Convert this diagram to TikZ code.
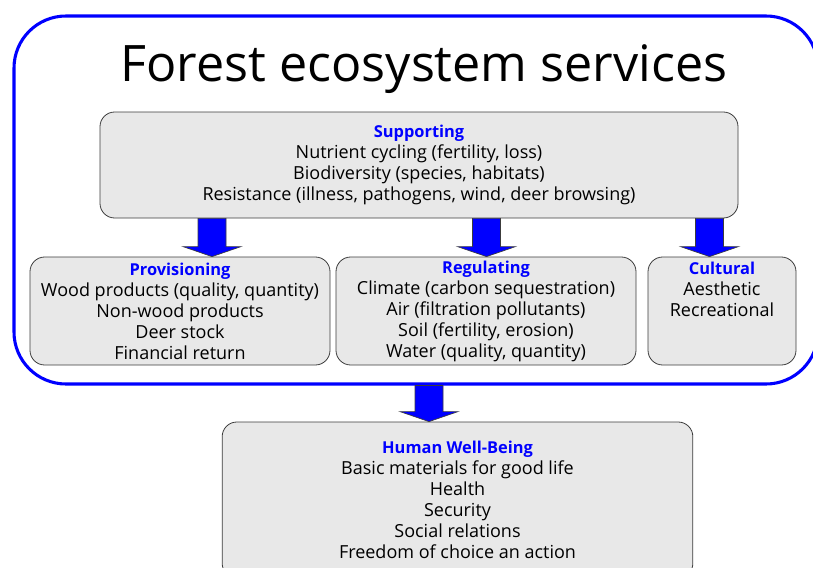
\documentclass[tikz,border=0pt]{standalone}
\usepackage{fontspec}
\setmainfont{Open Sans}
\usetikzlibrary{calc}
\definecolor{svcblue}{RGB}{0,0,255}
\definecolor{boxgray}{RGB}{232,232,232}
\definecolor{edgegray}{RGB}{60,60,60}
\newcommand{\svchead}[1]{\textcolor{svcblue}{\fontsize{12.3}{15.75}\selectfont\textbf{#1}}}
% block arrow: x position, upper node, lower node
\newcommand{\flowarrow}[3]{%
  \draw[blockarr] let \p1=(#1,0 |- #2.south), \p2=(#1,0 |- #3.north) in
    (\x1-10.5pt,\y1) -- (\x1-10.5pt,\y2+7.5pt) -- (\x1-21.75pt,\y2+7.5pt) -- (\x2,\y2)
    -- (\x1+21.75pt,\y2+7.5pt) -- (\x1+10.5pt,\y2+7.5pt) -- (\x1+10.5pt,\y1) -- cycle;}

\begin{document}
\begin{tikzpicture}[
  x=0.75pt,y=-0.75pt,
  frame/.style={draw=svcblue,line width=2.3pt,rounded corners=39pt,minimum width=603pt,minimum height=276pt,inner sep=0pt},
  svcbox/.style={draw=edgegray,fill=boxgray,line width=0.6pt,rounded corners=11pt,align=center,inner sep=0pt,font=\fontsize{13.5}{15.75}\selectfont},
  blockarr/.style={fill=svcblue,draw=edgegray,line width=0.5pt},
  titletext/.style={font=\fontsize{37.7}{40}\selectfont,anchor=base}
]
\clip (0,0) rectangle (813,567);
\node[frame] (frame) at (416,200) {};
\node[titletext] (title) at (424,82) {Forest ecosystem services};

\node[svcbox,minimum width=478.5pt,minimum height=79.5pt] (sup) at (419,165)
  {\svchead{Supporting}\\Nutrient cycling (fertility, loss)\\Biodiversity (species, habitats)\\Resistance (illness, pathogens, wind, deer browsing)};
\node[svcbox,minimum width=225pt,minimum height=81pt] (prov) at (180,311)
  {\svchead{Provisioning}\\Wood products (quality, quantity)\\Non-wood products\\Deer stock\\Financial return};
\node[svcbox,minimum width=225pt,minimum height=81pt] (reg) at (486,311)
  {\svchead{Regulating}\\Climate (carbon sequestration)\\Air (filtration pollutants)\\Soil (fertility, erosion)\\Water (quality, quantity)};
\node[svcbox,minimum width=111pt,minimum height=81pt] (cult) at (722,311) {};
\node[align=center,anchor=north,inner sep=0pt,font=\fontsize{13.5}{15.75}\selectfont] (culttext) at (722,262)
  {\svchead{Cultural}\\Aesthetic\\Recreational};
\node[svcbox,minimum width=353pt,minimum height=117pt] (human) at (457.5,500)
  {\svchead{Human Well-Being}\\Basic materials for good life\\Health\\Security\\Social relations\\Freedom of choice an action};

\flowarrow{212}{sup}{prov}
\flowarrow{486.5}{sup}{reg}
\flowarrow{709.5}{sup}{cult}
\flowarrow{429}{frame}{human}
\end{tikzpicture}
\end{document}
